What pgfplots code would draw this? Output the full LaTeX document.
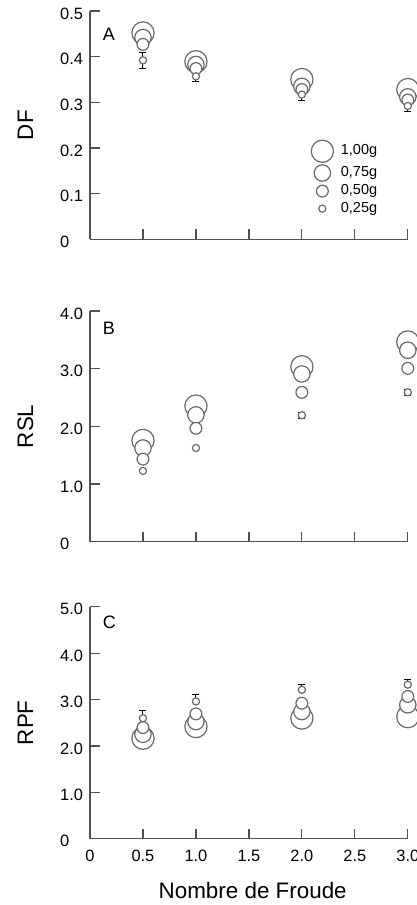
\documentclass[border=0pt]{standalone}
\usepackage{pgfplots}
\pgfplotsset{compat=1.18}
\usepackage{pgfplotstable}
\usepackage{fontspec}
\setmainfont{Liberation Sans}
\definecolor{axc}{RGB}{80,80,80}
\definecolor{mkc}{RGB}{105,105,105}

\pgfplotstableread{
x a b c d e
0.5 0.452 0.442 0.427 0.392 0.0175
1.0 0.389 0.383 0.374 0.357 0.012
2.0 0.350 0.335 0.328 0.317 0.012
3.0 0.328 0.312 0.305 0.292 0.0125
}\dataA
\pgfplotstableread{
x a b c d
0.5 1.756 1.625 1.432 1.227
1.0 2.352 2.199 1.966 1.625
2.0 3.034 2.909 2.590 2.193
3.0 3.463 3.320 3.006 2.590
}\dataB
\pgfplotstableread{
x d e
2.0 2.193 0.055
3.0 2.590 0.055
}\errB
\pgfplotstableread{
x a b c d e
0.5 2.165 2.251 2.395 2.597 0.159
1.0 2.417 2.525 2.690 2.958 0.144
2.0 2.600 2.740 2.920 3.210 0.120
3.0 2.630 2.886 3.066 3.320 0.120
}\dataC

\pgfplotsset{
  panel/.style={
    scale only axis, width=158.9pt, xmin=0, xmax=3, enlargelimits=false,
    axis x line=bottom, axis y line=left,
    axis line style={-, draw=axc, line width=0.6pt},
    every tick/.style={axc, line width=0.6pt},
    major tick length=5pt,
    tick align=inside,
    xtick={0,0.5,1,1.5,2,2.5,3},
    clip=false,
    /pgf/number format/assume math mode=true,
    tick label style={font=\fontsize{8.2}{9}\selectfont, black},
    yticklabel style={yshift=-1.25pt},
    xticklabel style={yshift=-2pt},
    label style={font=\fontsize{11.2}{13}\selectfont},
    ylabel style={at={(axis description cs:-0.203,0.5)}, anchor=center},
    only marks,
  },
  s100/.style={mark=*, mark size=5.55pt, mark options={draw=mkc, fill=white, line width=0.6pt}},
  s075/.style={mark=*, mark size=4.1pt, mark options={draw=mkc, fill=white, line width=0.6pt}},
  s050/.style={mark=*, mark size=2.95pt, mark options={draw=mkc, fill=white, line width=0.6pt}},
  s025/.style={mark=*, mark size=1.8pt, mark options={draw=mkc, fill=white, line width=0.6pt}},
  ebar/.style={mark=none, forget plot,
    error bars/y explicit,
    error bars/error bar style={black, line width=0.5pt, solid},
    error bars/error mark options={black, rotate=90, mark size=1.75pt, line width=0.5pt}},
}

\begin{document}
\begin{tikzpicture}
\useasboundingbox (0,0) rectangle (208.5pt,-452.5pt);
\clip (0,0) rectangle (208.5pt,-452.5pt);

% Panel A
\begin{axis}[panel, at={(45pt,-119.65pt)}, anchor=south west,
  height=114.15pt, ymin=0, ymax=0.5,
  ytick={0,0.1,0.2,0.3,0.4,0.5},
  yticklabels={0\phantom{.0},0.1,0.2,0.3,0.4,0.5},
  xticklabels={},
  ylabel={DF},
  legend image code/.code={\draw[#1] plot coordinates {(0pt,0pt)};},
  legend cell align=left,
  legend style={at={(0.695,0.436)}, anchor=north west, draw=none, fill=none,
    inner sep=0pt, row sep=1.2pt, column sep=3.2pt,
    nodes={inner sep=0.5pt, font=\fontsize{7.25}{8}\selectfont}},
]
\addplot[ebar, error bars/y dir=both] table[x=x, y=d, y error=e]{\dataA};
\addplot[s100] table[x=x, y=a]{\dataA};
\addlegendentry{1,00g}
\addplot[s075] table[x=x, y=b]{\dataA};
\addlegendentry{0,75g}
\addplot[s050] table[x=x, y=c]{\dataA};
\addlegendentry{0,50g}
\addplot[s025] table[x=x, y=d]{\dataA};
\addlegendentry{0,25g}
\node[anchor=west, inner sep=0pt, font=\fontsize{9}{10}\selectfont] at (rel axis cs:0.039,0.90) {A};
\end{axis}

% Panel B
\begin{axis}[panel, at={(45pt,-270.85pt)}, anchor=south west,
  height=115.35pt, ymin=0, ymax=4,
  ytick={0,1,2,3,4},
  yticklabels={0\phantom{.0},1.0,2.0,3.0,4.0},
  xticklabels={},
  ylabel={RSL},
]
\addplot[s100] table[x=x, y=a]{\dataB};
\addplot[s075] table[x=x, y=b]{\dataB};
\addplot[s050] table[x=x, y=c]{\dataB};
\addplot[s025] table[x=x, y=d]{\dataB};
\addplot[ebar, error bars/y dir=both] table[x=x, y=d, y error=e]{\errB};
\node[anchor=west, inner sep=0pt, font=\fontsize{9}{10}\selectfont] at (rel axis cs:0.039,0.924) {B};
\end{axis}

% Panel C
\begin{axis}[panel, at={(45pt,-419.35pt)}, anchor=south west,
  height=116pt, ymin=0, ymax=5,
  ytick={0,1,2,3,4,5},
  yticklabels={0\phantom{.0},1.0,2.0,3.0,4.0,5.0},
  xticklabels={0,0.5,1.0,1.5,2.0,2.5,3.0},
  ylabel={RPF},
  xlabel={Nombre de Froude},
  xlabel style={at={(axis description cs:0.512,-0.2246)}, anchor=center},
]
\addplot[ebar, error bars/y dir=plus] table[x=x, y=d, y error=e]{\dataC};
\addplot[s100] table[x=x, y=a]{\dataC};
\addplot[s075] table[x=x, y=b]{\dataC};
\addplot[s050] table[x=x, y=c]{\dataC};
\addplot[s025] table[x=x, y=d]{\dataC};
\node[anchor=west, inner sep=0pt, font=\fontsize{9}{10}\selectfont] at (rel axis cs:0.039,0.931) {C};
\end{axis}
\end{tikzpicture}
\end{document}
